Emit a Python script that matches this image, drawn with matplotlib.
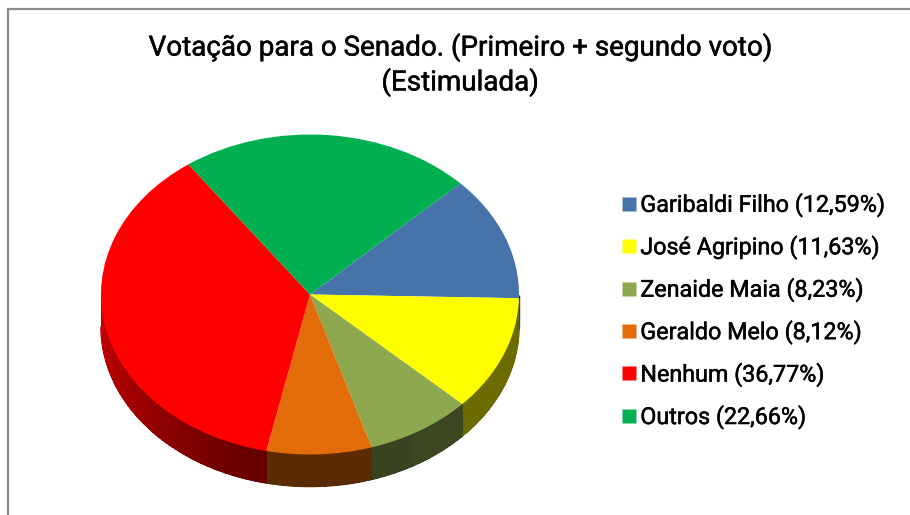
import numpy as np
import matplotlib
matplotlib.use("Agg")
import matplotlib.pyplot as plt
import matplotlib.patheffects as pe
from matplotlib.collections import LineCollection
from matplotlib.lines import Line2D
from matplotlib.patches import Polygon

names = ["Garibaldi Filho", "José Agripino", "Zenaide Maia", "Geraldo Melo", "Nenhum", "Outros"]
values = [12.59, 11.63, 8.23, 8.12, 36.77, 22.66]
colors = ["#4674AA", "#FFFF00", "#8EA84F", "#E36C0A", "#FF0000", "#00B050"]
title = "Votação para o Senado. (Primeiro + segundo voto)\n(Estimulada)"

W, H = 910, 515
plt.rcParams["font.family"] = ["Roboto", "DejaVu Sans"]
fig = plt.figure(figsize=(W / 100, H / 100), dpi=100, facecolor="white")

# ellipse geometry in pixels
cx, cy, rx, ry, depth = 310, 294.5, 209, 160, 32
START = 44
ax = fig.add_axes([(cx - rx) / W, 1 - (cy + ry) / H, 2 * rx / W, 2 * ry / H])
wedges, _ = ax.pie(values, colors=colors, startangle=START, counterclock=False,
                   radius=1, center=(0, 0), wedgeprops={"linewidth": 0})
ax.set_aspect("auto")
ax.set_xlim(-1, 1)
ax.set_ylim(-1, 1)
ax.patch.set_visible(False)
for w in wedges:
    w.set_clip_on(False)
    w.set_zorder(3)

# side wall of the disc
d = depth / ry
def shade(theta):
    t = theta % 360
    if 180 <= t <= 255:
        return 0.80 - (t - 180) / 75 * 0.40
    if t > 300:
        return 0.42
    return 0.40

angle = START
segs, seg_cols = [], []
for v, c in zip(values, colors):
    a0 = angle
    a1 = angle - v * 3.6
    angle = a1
    rgb = np.array(matplotlib.colors.to_rgb(c))
    grid = np.clip(np.arange(np.floor(a1), a0 + 0.5, 0.5), a1, a0)
    for lo, hi in zip(grid[:-1], grid[1:]):
        mid = (lo + hi) / 2
        if hi <= lo or np.sin(np.radians(mid)) > 0:
            continue
        th = np.radians([lo, min(hi + 0.2, a0)])
        x, y = np.cos(th), np.sin(th)
        col = rgb * shade(mid)
        pts = np.r_[np.c_[x, y], np.c_[x[::-1], y[::-1] - d]]
        ax.add_patch(Polygon(pts, closed=True, fc=col, ec="none", antialiased=False,
                             zorder=2, clip_on=False, snap=False))
        segs.append(np.c_[x, y - d])
        seg_cols.append(col)
        # the two ends of the visible wall get a vertical edge
        for t in (lo, hi):
            if abs(np.sin(np.radians(t))) < 0.03:
                xe = np.cos(np.radians(t)) * (1 - 0.5 / rx)
                ye = np.sin(np.radians(t))
                segs.append(np.array([[xe, ye], [xe, ye - d]]))
                seg_cols.append(col)
ax.add_collection(LineCollection(segs, colors=seg_cols, linewidths=1.0, capstyle="butt",
                                 zorder=2.5, clip_on=False), autolim=False)

# outer frame: top and left only
fig.add_artist(Line2D([8 / W, 8 / W, 1], [0, 1 - 9 / H, 1 - 9 / H],
                      color="#8A8A8A", lw=1.6, solid_joinstyle="miter"))

heavier = [pe.withStroke(linewidth=0.35, foreground="black")]
fig.text(460 / W, 1 - 65 / H, title, ha="center", va="center", fontsize=20,
         color="black", linespacing=1.27, path_effects=heavier)

labels = [f"{n} ({v:.2f}%)".replace(".", ",") for n, v in zip(names, values)]
handles = [plt.Line2D([], [], ls="none", marker="s", ms=9.4, mfc=c, mec="none") for c in colors]
leg = fig.legend(handles, labels, loc="center left", bbox_to_anchor=(617 / W, 1 - 311 / H),
                 frameon=False, fontsize=16.8, labelspacing=0.75, handlelength=1.0,
                 handletextpad=0.0, borderpad=0, borderaxespad=0, labelcolor="black")
for t in leg.get_texts():
    t.set_path_effects(heavier)

fig.savefig("out.png", dpi=100)
